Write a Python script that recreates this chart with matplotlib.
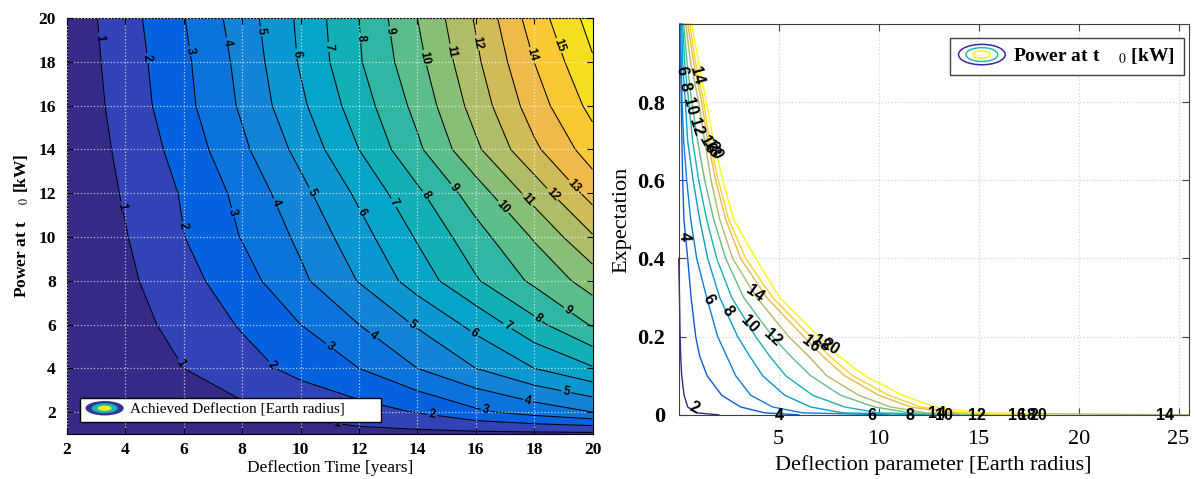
import numpy as np
import matplotlib
matplotlib.use('Agg')
import matplotlib.pyplot as plt
from matplotlib.colors import LinearSegmentedColormap, Normalize
from matplotlib.patches import Ellipse, Patch
from matplotlib.legend_handler import HandlerBase

plt.rcParams['font.family'] = ['Liberation Serif', 'DejaVu Serif']
plt.rcParams['mathtext.fontset'] = 'stix'

# ========== PARULA-LIKE COLORMAP ==========
parula_pts = [
    (0.2081, 0.1663, 0.5292), (0.1959, 0.2645, 0.7279), (0.0117, 0.3875, 0.8820),
    (0.0498, 0.4586, 0.8641), (0.0793, 0.5200, 0.8312), (0.0343, 0.5966, 0.8199),
    (0.0228, 0.6535, 0.7768), (0.0843, 0.6928, 0.7062), (0.2178, 0.7250, 0.6193),
    (0.3953, 0.7459, 0.5244), (0.5709, 0.7485, 0.4494), (0.7184, 0.7411, 0.3905),
    (0.8507, 0.7299, 0.3360), (0.9739, 0.7314, 0.2666), (0.9880, 0.8066, 0.1794),
    (0.9589, 0.8949, 0.1132), (0.9763, 0.9831, 0.0538),
]
parula = LinearSegmentedColormap.from_list('parula', parula_pts)

# ========== DATA: LEFT (achieved deflection, Earth radius) ==========
defl_time = [2, 4, 6, 8, 10, 12, 14, 16, 18, 20]          # years
power_rows = [1, 2, 4, 6, 8, 10, 12, 14, 16, 18, 20]      # kW
defl_p1 = [0.01, 0.15, 0.30, 0.45, 0.58, 0.68, 0.72, 0.74, 0.76, 0.77]
defl_p2 = [0.03, 0.30, 0.55, 0.78, 1.20, 1.60, 2.05, 2.80, 3.40, 4.00]
defl_p4 = [0.04, 0.50, 1.00, 1.60, 2.30, 3.00, 4.00, 5.00, 6.00, 6.90]
defl_p6 = [0.07, 0.65, 1.30, 2.10, 3.00, 4.00, 5.10, 6.30, 7.70, 9.10]
defl_p8 = [0.10, 0.80, 1.65, 2.60, 3.80, 5.05, 6.45, 7.90, 9.20, 10.45]
defl_p10 = [0.12, 0.95, 1.98, 3.05, 4.20, 5.60, 7.10, 8.60, 10.10, 11.90]
defl_p12 = [0.15, 1.10, 2.10, 3.30, 4.70, 6.20, 7.80, 9.50, 11.40, 13.40]
defl_p14 = [0.20, 1.25, 2.40, 3.80, 5.30, 7.00, 8.80, 10.80, 12.80, 14.50]
defl_p16 = [0.25, 1.40, 2.70, 4.15, 5.80, 7.50, 9.30, 11.40, 13.50, 15.30]
defl_p18 = [0.30, 1.50, 2.80, 4.30, 6.10, 7.90, 9.70, 11.80, 14.00, 15.90]
defl_p20 = [0.35, 1.60, 2.97, 4.50, 6.20, 8.00, 10.00, 12.10, 14.50, 16.40]

# label anchor points on the left contours
left_label_pos = [
    (3.03, 19.1), (3.9, 11.4), (5.97, 4.3), (11.25, 1.4),
    (4.84, 18.2), (5.97, 10.5), (9.1, 4.25), (14.5, 1.73),
    (6.2, 18.5), (7.65, 11.1), (10.95, 4.9), (16.35, 2.1),
    (7.5, 18.9), (9.05, 11.5), (12.45, 5.4), (17.8, 2.55),
    (8.65, 19.4), (10.3, 12.0), (13.75, 5.84), (19.1, 2.9),
    (9.98, 18.4), (12.03, 11.1), (15.9, 5.5),
    (11.07, 18.7), (13.1, 11.5), (17.07, 5.9),
    (12.1, 19.1), (14.15, 11.8), (18.13, 6.25),
    (13.0, 19.4), (15.2, 12.2), (19.16, 6.66),
    (14.26, 18.2), (16.8, 11.2),
    (15.2, 18.5), (17.8, 11.7),
    (16.1, 18.9), (18.7, 12.05),
    (19.5, 12.5), (18.1, 18.4), (18.95, 18.8),
]

# ========== DATA: RIGHT (expectation vs deflection parameter) ==========
power_levels = [2, 4, 6, 8, 10, 12, 14, 16, 18, 20]
expectation = [1.0, 0.9, 0.8, 0.7, 0.6, 0.5, 0.4, 0.3, 0.2, 0.15, 0.1, 0.05, 0.02, 0.005, 0.0]
x_p2 = [np.nan] * 6 + [0.0, 0.04, 0.07, 0.10, 0.15, 0.27, 0.45, 0.90, 2.0]
x_p4 = [0.05, 0.10, 0.13, 0.16, 0.20, 0.26, 0.45, 0.62, 0.85, 1.05, 1.42, 2.15, 3.10, 4.30, 6.0]
x_p6 = [0.10, 0.12, 0.17, 0.25, 0.40, 0.60, 0.90, 1.40, 1.95, 2.40, 2.85, 3.60, 4.70, 6.20, 10.5]
x_p8 = [0.15, 0.20, 0.33, 0.45, 0.72, 1.05, 1.45, 2.05, 2.95, 3.55, 4.20, 5.30, 6.60, 8.20, 12.5]
x_p10 = [0.20, 0.30, 0.50, 0.70, 1.00, 1.40, 1.90, 2.65, 3.85, 4.55, 5.35, 6.70, 8.30, 10.0, 14.0]
x_p12 = [0.25, 0.42, 0.65, 0.95, 1.30, 1.75, 2.35, 3.25, 4.70, 5.60, 6.60, 8.10, 9.80, 11.6, 15.5]
x_p14 = [0.35, 0.60, 1.00, 1.30, 1.62, 2.05, 2.70, 3.90, 5.50, 6.50, 7.40, 9.00, 10.6, 12.4, 25.5]
x_p16 = [0.45, 0.75, 1.15, 1.45, 1.85, 2.35, 3.10, 4.40, 6.25, 7.20, 8.30, 10.0, 11.6, 13.6, 17.5]
x_p18 = [0.55, 0.85, 1.25, 1.55, 1.98, 2.50, 3.35, 4.70, 6.60, 7.55, 8.70, 10.5, 12.1, 14.1, 18.0]
x_p20 = [0.65, 1.00, 1.38, 1.75, 2.20, 2.75, 3.85, 5.05, 7.00, 8.00, 9.30, 11.2, 12.8, 15.0, 18.5]

right_labels = [
    (0.13, 0.88, '6', -80), (0.30, 0.84, '8', -80), (0.55, 0.79, '10', -75),
    (0.88, 0.735, '12', -72), (0.90, 0.867, '14', -75),
    (1.45, 0.69, '16', -62), (1.62, 0.68, '18', -62), (1.80, 0.675, '20', -62),
    (0.30, 0.456, '4', -88),
    (1.47, 0.295, '6', -58), (2.47, 0.265, '8', -55), (3.55, 0.231, '10', -45),
    (4.72, 0.197, '12', -42), (3.80, 0.31, '14', -35),
    (6.6, 0.18, '16', -38), (7.1, 0.182, '18', -35), (7.6, 0.175, '20', -32),
    (0.80, 0.018, '2', -25),
    (5.05, -0.003, '4', 0), (9.65, -0.003, '6', 0), (11.55, -0.003, '8', 0),
    (12.9, 0.004, '14', 0), (13.25, -0.003, '10', 0), (14.9, -0.003, '12', 0),
    (16.9, -0.003, '16', 0), (17.4, -0.003, '18', 0), (18.0, -0.003, '20', 0),
    (24.3, -0.003, '14', 0),
]


class EllipseHandler(HandlerBase):
    def __init__(self, colors, filled):
        super().__init__()
        self.colors = colors
        self.filled = filled

    def create_artists(self, legend, orig_handle, xdescent, ydescent,
                       width, height, fontsize, trans):
        cx = 0.5 * width - xdescent
        cy = 0.5 * height - ydescent
        arts = []
        for k, c in enumerate(self.colors):
            s = 1.0 - 0.32 * k
            if self.filled:
                e = Ellipse((cx, cy), width * s, height * 1.35 * s,
                            facecolor=c, edgecolor='none', transform=trans)
            else:
                e = Ellipse((cx, cy), width * s, height * 1.5 * s,
                            facecolor='none', edgecolor=c, lw=1.1, transform=trans)
            arts.append(e)
        return arts


fig = plt.figure(figsize=(11.97, 4.79), dpi=100)
ax1 = fig.add_axes([0.056, 0.094, 0.439, 0.868])
ax2 = fig.add_axes([0.567, 0.134, 0.426, 0.816])

# ---------- left panel ----------
T, P = np.meshgrid(defl_time, power_rows)
Z = np.array([defl_p1, defl_p2, defl_p4, defl_p6, defl_p8, defl_p10,
              defl_p12, defl_p14, defl_p16, defl_p18, defl_p20])
ax1.contourf(T, P, Z, levels=np.arange(0, 18), cmap=parula, norm=Normalize(0.5, 16.9))
cs = ax1.contour(T, P, Z, levels=np.arange(1, 17), colors='k', linewidths=0.75)
txts = ax1.clabel(cs, fmt='%d', fontsize=8.5, manual=left_label_pos, inline_spacing=2)
for t in txts:
    t.set_fontweight('bold')
    t.set_family(['Liberation Sans', 'DejaVu Sans'])

ax1.set_xlim(2, 20)
ax1.set_ylim(1, 20)
ax1.set_xticks(range(2, 21, 2))
ax1.set_yticks(range(2, 21, 2))
ax1.grid(True, color='white', linestyle=':', linewidth=0.9, alpha=0.7)
ax1.set_axisbelow(False)
ax1.tick_params(direction='in', top=True, right=True, labelsize=12.5, length=4)
ax1.tick_params(axis='x', pad=6)
ax1.tick_params(axis='y', pad=8)
for lab in ax1.get_xticklabels() + ax1.get_yticklabels():
    lab.set_fontweight('bold')
ax1.set_xlabel('Deflection Time [years]', fontsize=12.5, labelpad=1)
ax1.set_ylabel('Power at t    $_0$ [kW]', fontsize=12.5, fontweight='bold', labelpad=5)

h1 = Patch()
ax1.legend([h1], ['Achieved Deflection [Earth radius]        '],
           handler_map={h1: EllipseHandler([(0.20, 0.20, 0.62), (0.10, 0.72, 0.65), (1.0, 0.95, 0.05)], True)},
           loc='lower left', bbox_to_anchor=(0.025, 0.029), fontsize=11,
           frameon=True, fancybox=False, edgecolor='black', framealpha=1,
           handlelength=2.5, handletextpad=0.4, borderpad=0.35, borderaxespad=0)

# ---------- right panel ----------
pnorm = Normalize(2, 20)
curves = [x_p2, x_p4, x_p6, x_p8, x_p10, x_p12, x_p14, x_p16, x_p18, x_p20]
for p, xs in zip(power_levels, curves):
    ax2.plot(xs, expectation, color=parula(pnorm(p)), lw=1.0, clip_on=False)

for x, y, s, rot in right_labels:
    ax2.text(x, y, s, rotation=rot, ha='center', va='center', fontsize=11.5,
             fontweight='bold', family=['Liberation Sans', 'DejaVu Sans'],
             rotation_mode='anchor', zorder=5)

ax2.set_xlim(0, 25.5)
ax2.set_ylim(0, 1.0)
ax2.set_xticks([5, 10, 15, 20, 25])
ax2.set_yticks([0, 0.2, 0.4, 0.6, 0.8])
ax2.set_yticklabels(['0', '0.2', '0.4', '0.6', '0.8'])
ax2.grid(True, color='#d5d5d5', linestyle=':', linewidth=0.9)
ax2.tick_params(direction='in', top=True, right=True, labelsize=16, length=5, color='#404040')
ax2.tick_params(axis='x', pad=11)
ax2.tick_params(axis='y', pad=10)
for sp in ax2.spines.values():
    sp.set_color('#404040')
for lab in ax2.get_yticklabels():
    lab.set_fontweight('bold')
ax2.set_xlabel('Deflection parameter [Earth radius]', fontsize=16, labelpad=4)
ax2.set_ylabel('Expectation', fontsize=16, labelpad=4)

h2 = Patch()
ax2.legend([h2], ['Power at t    $_0$ [kW]'],
           handler_map={h2: EllipseHandler([(0.24, 0.15, 0.66), (0.15, 0.75, 0.65), (1.0, 0.95, 0.05)], False)},
           loc='upper right', bbox_to_anchor=(0.99, 0.965), prop={'size': 14, 'weight': 'bold'},
           frameon=True, fancybox=False, edgecolor='#404040', framealpha=1,
           handlelength=2.4, handletextpad=0.4, borderpad=0.45, borderaxespad=0)

fig.savefig('out.png', dpi=100)
